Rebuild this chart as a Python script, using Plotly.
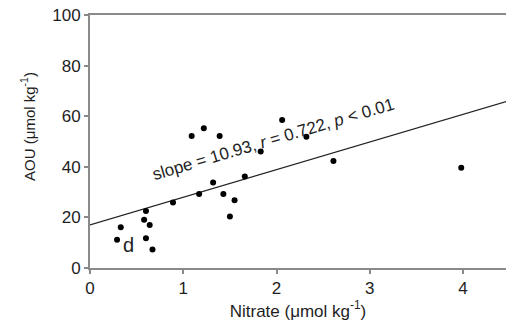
import plotly.graph_objects as go

nitrate = [0.29, 0.33, 0.58, 0.60, 0.64, 0.60, 0.67, 0.89, 1.17, 1.32, 1.43, 1.50,
           1.55, 1.66, 1.09, 1.22, 1.39, 1.83, 2.06, 2.32, 2.61, 3.98]
aou = [11.2, 16.1, 19.1, 22.5, 17.0, 11.8, 7.3, 25.9, 29.2, 33.8, 29.2, 20.4,
       26.8, 36.2, 52.2, 55.2, 52.2, 46.0, 58.5, 51.9, 42.3, 39.6]

slope = 10.93
intercept = 17.0
line_x = [0, 4.5]
line_y = [intercept + slope * v for v in line_x]

x_ticks = [0, 1, 2, 3, 4]
y_ticks = [0, 20, 40, 60, 80, 100]

font = "Liberation Sans, Arial, sans-serif"
axis_color = "#8a8a8a"
text_color = "#1e1e1e"

fig = go.Figure()
fig.add_trace(go.Scatter(x=line_x, y=line_y, mode="lines",
                         line=dict(color="#222222", width=1.2), showlegend=False))
fig.add_trace(go.Scatter(x=nitrate, y=aou, mode="markers",
                         marker=dict(color="black", size=6), showlegend=False))

fig.add_annotation(x=1.963, y=50.6, xref="x", yref="y",
                   text="slope = 10.93, <i>r</i> = 0.722, <i>p</i> < 0.01",
                   showarrow=False, textangle=-16.5,
                   font=dict(family=font, size=17, color=text_color),
                   xanchor="center", yanchor="middle")
fig.add_annotation(x=0.41, y=9.0, xref="x", yref="y", text="d",
                   showarrow=False, font=dict(family=font, size=20, color=text_color),
                   xanchor="center", yanchor="middle")
# y-axis title placed as annotation to match reference position
fig.add_annotation(x=-0.15, y=0.56, xref="paper", yref="paper",
                   text="AOU (\u03bcmol kg<sup>-1</sup>)", textangle=-90,
                   showarrow=False, font=dict(family=font, size=15, color=text_color),
                   xanchor="center", yanchor="middle")

fig.update_layout(
    width=506, height=321,
    margin=dict(l=90, r=0, t=15, b=53),
    plot_bgcolor="white", paper_bgcolor="white",
    font=dict(family=font, size=17, color=text_color),
    xaxis=dict(range=[0, 4.46], tickvals=x_ticks, showgrid=False, zeroline=False,
               showline=True, linecolor=axis_color, linewidth=2, mirror=True,
               ticks="outside", ticklen=4, tickcolor=axis_color, tickwidth=1.5,
               title=dict(text="Nitrate (\u03bcmol kg<sup>-1</sup>)", standoff=3,
                          font=dict(size=17))),
    yaxis=dict(range=[0, 100], tickvals=y_ticks, showgrid=False, zeroline=False,
               showline=True, linecolor=axis_color, linewidth=2,
               ticks="outside", ticklen=4, tickcolor=axis_color, tickwidth=1.5),
)

fig.write_html("out.html")
